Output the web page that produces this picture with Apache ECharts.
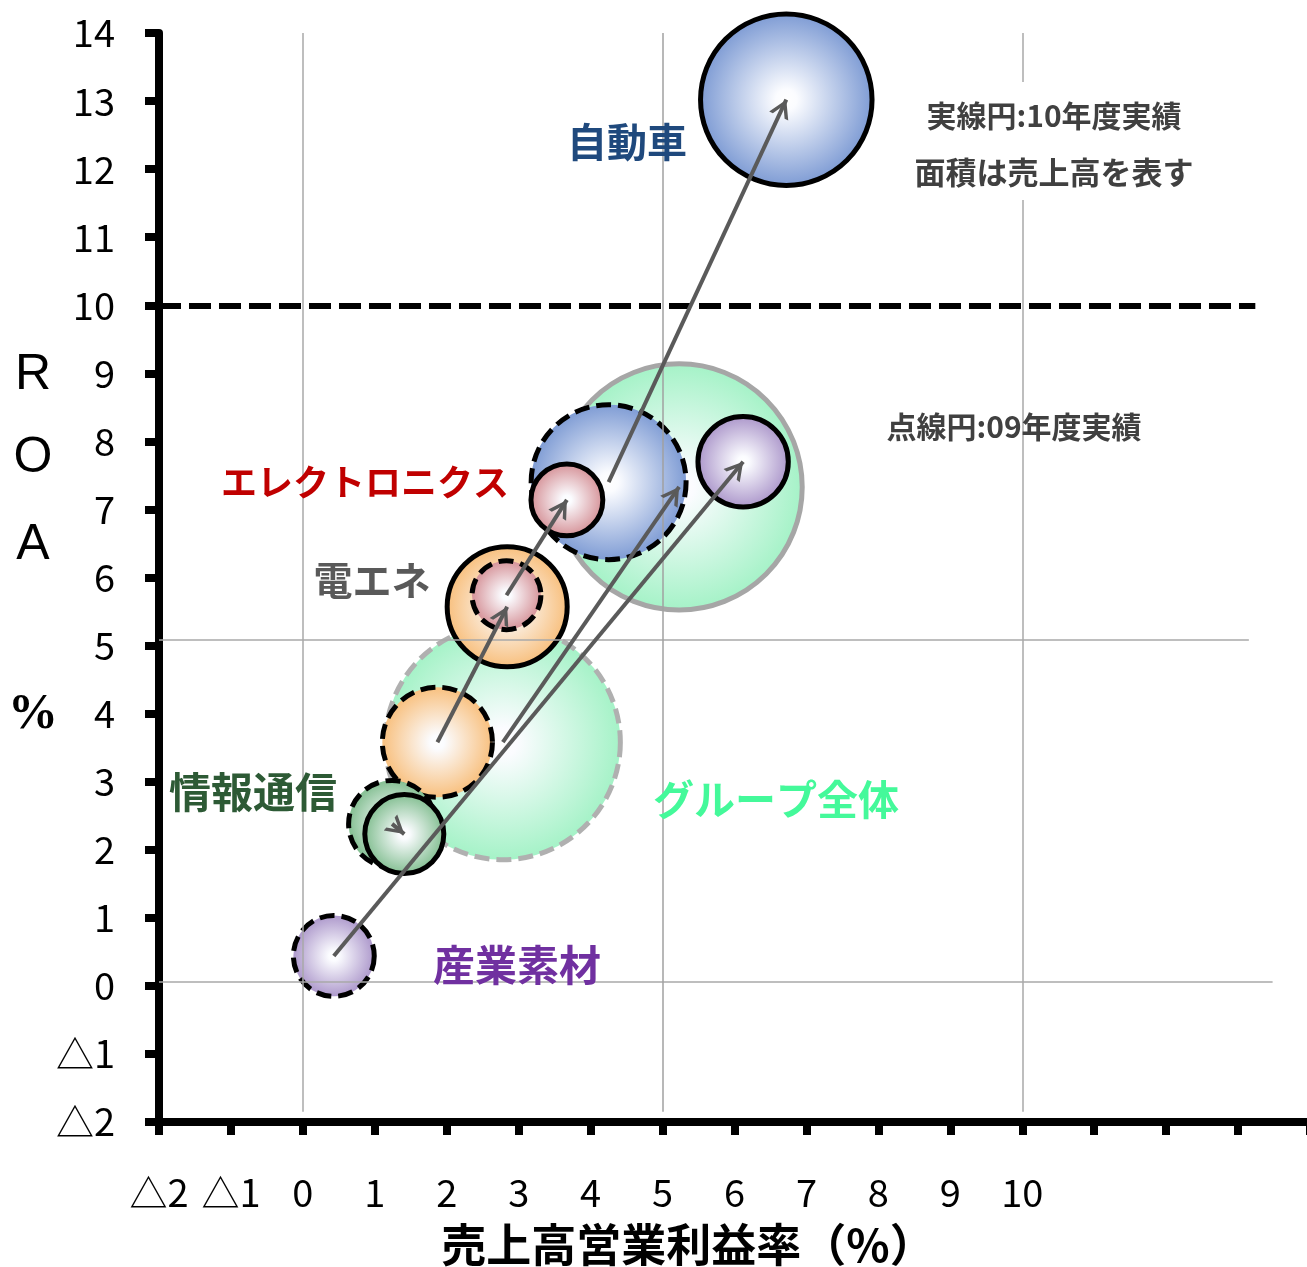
<!DOCTYPE html>
<html><head><meta charset="utf-8">
<script src="https://cdn.jsdelivr.net/npm/echarts@6/dist/echarts.min.js"></script>
<style>html,body{margin:0;padding:0;background:#fff}#c{width:1307px;height:1267px}</style>
</head><body><div id="c"></div>
<script>
// ---- data (drawing order: back to front) ----
const segments = ['グループ全体', '自動車', '電エネ', 'エレクトロニクス', '情報通信', '産業素材'];
const margin09 = [2.78, 4.25, 1.87, 2.83, 1.24, 0.43];   // 売上高営業利益率 09年度 (%)
const roa09    = [3.58, 7.40, 3.58, 5.74, 2.38, 0.44];   // ROA 09年度 (%)
const sales09  = [92, 40, 20.2, 7.9, 12.6, 10.9];        // 売上高 (index)
const margin10 = [5.23, 6.72, 2.84, 3.67, 1.41, 6.12];   // 売上高営業利益率 10年度 (%)
const roa10    = [7.33, 13.02, 5.57, 7.14, 2.23, 7.70];  // ROA 10年度 (%)
const sales10  = [101, 49, 24, 8.6, 10.4, 13.6];         // 売上高 (index)
const xTickValues = [-2,-1,0,1,2,3,4,5,6,7,8,9,10,11,12,13,14];
const xTickLabels = ['△2','△1','0','1','2','3','4','5','6','7','8','9','10','','','',''];
const yTickValues = [-2,-1,0,1,2,3,4,5,6,7,8,9,10,11,12,13,14];
const yTickLabels = ['△2','△1','0','1','2','3','4','5','6','7','8','9','10','11','12','13','14'];
const roaTarget = 10;

// ---- styles ----
const segColor = {
  'グループ全体': '#a3f2c6',
  '自動車': '#7b99d3',
  '電エネ': '#f8bd78',
  'エレクトロニクス': '#d38b91',
  '情報通信': '#7cbb8b',
  '産業素材': '#a892c8'
};
const border10 = { 'グループ全体': '#a6a6a6' };
const border09 = { 'グループ全体': '#b0b0b0' };
const FONT = 'Noto Sans CJK JP';

function grad(c) {
  return { type: 'radial', x: 0.5, y: 0.5, r: 0.5,
    colorStops: [{ offset: 0, color: '#ffffff' }, { offset: 0.12, color: '#fbfcff' }, { offset: 1, color: c }] };
}
function sz(s) { return Math.sqrt(s) * 24.5; }

const chevron = 'path://M0,0 L0.01,0 L0,0.01 Z M36,0 L35.99,0 L36,0.01 Z M18,18 L28.5,36 L24.5,36 L18,24.8 L11.5,36 L7.5,36 Z';

const bubbleSeries = segments.map((name, i) => ({
  type: 'scatter', name: name, z: 2, silent: true, animation: false,
  data: [
    { value: [margin09[i], roa09[i]], symbolSize: sz(sales09[i]),
      itemStyle: { color: grad(segColor[name]), opacity: 1, borderColor: border09[name] || '#000',
        borderWidth: 5, borderType: [15, 7] } },
    { value: [margin10[i], roa10[i]], symbolSize: sz(sales10[i]),
      itemStyle: { color: grad(segColor[name]), opacity: 1, borderColor: border10[name] || '#000',
        borderWidth: 5, borderType: 'solid' } }
  ]
}));

const gridBack = {
  type: 'line', data: [], z: 1, silent: true, animation: false,
  markLine: { silent: true, symbol: 'none', animation: false, label: { show: false },
    lineStyle: { color: '#a8a8a8', width: 1.5, type: 'solid' },
    data: [
      [{ coord: [0, -1.85] }, { coord: [0, 14] }],
      [{ coord: [10, -1.85] }, { coord: [10, 14] }],
      [{ coord: [-2, 5.08] }, { coord: [13.15, 5.08] }],
      [{ coord: [-2, 0.06] }, { coord: [13.48, 0.06] }]
    ] }
};
const gridFront = {
  type: 'line', data: [], z: 3, silent: true, animation: false,
  markLine: { silent: true, symbol: 'none', animation: false, label: { show: false },
    lineStyle: { color: '#a0a0a0', width: 1.5, type: 'solid' },
    data: [ [{ coord: [5, -1.85] }, { coord: [5, 14] }] ] }
};
const targetLine = {
  type: 'line', data: [], z: 3, silent: true, animation: false,
  markLine: { silent: true, symbol: 'none', animation: false, label: { show: false },
    lineStyle: { color: '#000', width: 6, type: [22, 8] },
    data: [ [{ coord: [-2, roaTarget] }, { coord: [13.24, roaTarget] }] ] }
};
const arrows = {
  type: 'line', data: [], z: 4, silent: true, animation: false,
  markLine: { silent: true, symbol: ['none', chevron], symbolSize: 36, animation: false,
    label: { show: false },
    lineStyle: { color: '#5a5a5a', width: 4, type: 'solid', opacity: 1 },
    data: segments.map((n, i) => [{ coord: [margin09[i], roa09[i]] }, { coord: [margin10[i], roa10[i]] }]) }
};

function txt(text, x, y, size, color, weight, family) {
  return { type: 'text', z: 100, silent: true,
    style: { text: text, x: x, y: y, align: 'center', verticalAlign: 'middle',
      fontSize: size, fontWeight: weight || 'bold', fontFamily: family || FONT, fill: color } };
}

const chart = echarts.init(document.getElementById('c'));
chart.setOption({
  animation: false,
  backgroundColor: '#ffffff',
  grid: { left: 159, top: 33, width: 1151, height: 1089, containLabel: false, outerBoundsMode: 'none' },
  xAxis: {
    type: 'value', min: -2, max: 14, interval: 1,
    axisLine: { show: true, onZero: false, lineStyle: { color: '#000', width: 8 } },
    axisTick: { show: true, inside: false, length: 13, lineStyle: { color: '#000', width: 8 } },
    axisLabel: { margin: 52, fontSize: 38, fontFamily: FONT, color: '#000',
      formatter: v => { const k = xTickValues.indexOf(v); return k >= 0 ? xTickLabels[k] : ''; } },
    splitLine: { show: false }
  },
  yAxis: {
    type: 'value', min: -2, max: 14, interval: 1,
    axisLine: { show: true, onZero: false, lineStyle: { color: '#000', width: 8 } },
    axisTick: { show: true, inside: false, length: 14, lineStyle: { color: '#000', width: 8 } },
    axisLabel: { margin: 44, fontSize: 38, fontFamily: FONT, color: '#000',
      formatter: v => { const k = yTickValues.indexOf(v); return k >= 0 ? yTickLabels[k] : ''; } },
    splitLine: { show: false }
  },
  series: [gridBack].concat(bubbleSeries, [gridFront, targetLine, arrows]),
  graphic: [
    { type: 'rect', z: 50, silent: true, shape: { x: 905, y: 82, width: 300, height: 118 }, style: { fill: '#ffffff' } },
    txt('実線円:10年度実績', 1054, 116, 30, '#404040'),
    txt('面積は売上高を表す', 1054, 172, 31, '#404040'),
    txt('点線円:09年度実績', 1014, 427, 30, '#404040'),
    txt('自動車', 627, 142, 40, '#1f497d'),
    txt('エレクトロニクス', 365, 482, 36, '#c00000'),
    txt('電エネ', 372, 580, 39, '#595959'),
    txt('情報通信', 253, 792, 42, '#2d5a35'),
    txt('グループ全体', 776, 799, 41, '#44f99a'),
    txt('産業素材', 517, 965, 42, '#7030a0'),
    txt('R', 33, 375, 50, '#000', 'normal', 'Liberation Sans'),
    txt('O', 33, 458, 50, '#000', 'normal', 'Liberation Sans'),
    txt('A', 33, 545, 50, '#000', 'normal', 'Liberation Sans'),
    txt('%', 33, 715, 50, '#000', 'bold', 'Liberation Sans Narrow'),
    txt('売上高営業利益率（%）', 688, 1245, 45, '#000')
  ]
});
</script></body></html>
